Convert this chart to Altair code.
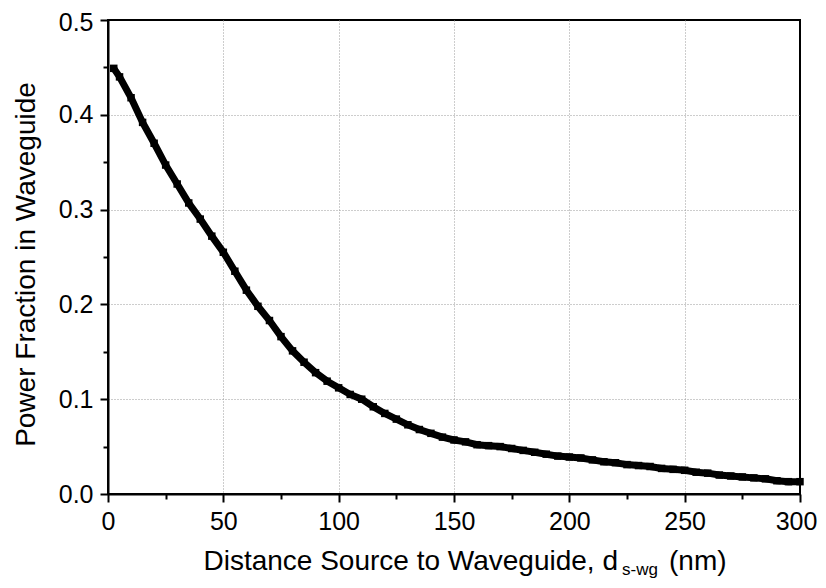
import altair as alt
import pandas as pd

# Distance source to waveguide (nm) and power fraction
distance = [2.5, 5, 10, 15, 20, 25, 30, 35, 40, 45, 50, 55, 60, 65, 70, 75, 80, 85, 90, 95,
            100, 105, 110, 115, 120, 125, 130, 135, 140, 145, 150, 155, 160, 165, 170, 175,
            180, 185, 190, 195, 200, 205, 210, 215, 220, 225, 230, 235, 240, 245, 250, 255,
            260, 265, 270, 275, 280, 285, 290, 295, 300]
power = [0.449, 0.440, 0.418, 0.392, 0.370, 0.347, 0.327, 0.307, 0.290, 0.272, 0.255,
         0.235, 0.215, 0.198, 0.183, 0.166, 0.151, 0.139, 0.128, 0.119, 0.112, 0.105,
         0.100, 0.092, 0.085, 0.079, 0.073, 0.068, 0.064, 0.060, 0.057, 0.055, 0.052,
         0.051, 0.050, 0.048, 0.046, 0.044, 0.042, 0.040, 0.039, 0.038, 0.036, 0.034,
         0.033, 0.031, 0.030, 0.029, 0.027, 0.026, 0.025, 0.023, 0.022, 0.020, 0.019,
         0.018, 0.017, 0.016, 0.014, 0.013, 0.013]

x_ticks = [0, 25, 50, 75, 100, 125, 150, 175, 200, 225, 250, 275, 300]
y_ticks = [0.0, 0.05, 0.1, 0.15, 0.2, 0.25, 0.3, 0.35, 0.4, 0.45, 0.5]

y_title = "Power Fraction in Waveguide"
x_title_parts = ["Distance Source to Waveguide, d", "s-wg", "(nm)"]

FONT = "Liberation Sans"

df = pd.DataFrame({"d": distance, "p": power})

xscale = alt.Scale(domain=[0, 300], nice=False, zero=False)
yscale = alt.Scale(domain=[0, 0.5], nice=False)

x_major = "datum.value % 50 === 0"
y_major = "round(datum.value * 20) % 2 === 0"

xaxis = alt.Axis(
    values=x_ticks, title=None,
    labelExpr=f"{x_major} ? datum.label : ''",
    format="d",
    tickSize={"condition": {"test": x_major, "value": 8}, "value": 5},
    gridOpacity={"condition": {"test": f"{x_major} && datum.value > 0 && datum.value < 300", "value": 1}, "value": 0},
    labelFontSize=25, labelFont=FONT, labelColor="black", labelPadding=7,
    labelOffset={"condition": {"test": "datum.value === 300", "value": -4}, "value": 0},
    labelFlush=False, labelOverlap=False,
)
yaxis = alt.Axis(
    values=y_ticks, title=y_title, format=".1f",
    labelExpr=f"{y_major} ? datum.label : ''",
    tickSize={"condition": {"test": y_major, "value": 8}, "value": 5},
    gridOpacity={"condition": {"test": f"{y_major} && datum.value > 0.01 && datum.value < 0.49", "value": 1}, "value": 0},
    labelFontSize=25, labelFont=FONT, labelColor="black", labelPadding=7,
    labelOffset={"condition": {"test": "datum.value > 0.49", "value": 2}, "value": 0},
    labelFlush=False, labelOverlap=False,
    titleFontSize=28, titleFont=FONT, titleFontWeight="normal", titleColor="black",
    titlePadding=18, titleY=244,
)

base = alt.Chart(df)
line = base.mark_line(color="black", strokeWidth=7).encode(
    x=alt.X("d:Q", scale=xscale, axis=xaxis),
    y=alt.Y("p:Q", scale=yscale, axis=yaxis),
)
pts = base.mark_square(color="black", size=56, opacity=1).encode(
    x=alt.X("d:Q", scale=xscale),
    y=alt.Y("p:Q", scale=yscale),
)

tdf = pd.DataFrame({"t": x_title_parts})
main_t = alt.Chart(tdf).transform_filter(alt.datum.t == x_title_parts[0]).mark_text(
    font=FONT, fontSize=28, align="right", baseline="alphabetic", color="black"
).encode(text="t:N", x=alt.value(510), y=alt.value(550))
sub_t = alt.Chart(tdf).transform_filter(alt.datum.t == x_title_parts[1]).mark_text(
    font=FONT, fontSize=17, align="left", baseline="alphabetic", color="black"
).encode(text="t:N", x=alt.value(514), y=alt.value(555))
unit_t = alt.Chart(tdf).transform_filter(alt.datum.t == x_title_parts[2]).mark_text(
    font=FONT, fontSize=28, align="left", baseline="alphabetic", color="black"
).encode(text="t:N", x=alt.value(561), y=alt.value(550))

chart = alt.layer(line, pts, main_t, sub_t, unit_t).properties(
    width=692, height=474,
    autosize=alt.AutoSizeParams(type="none"),
    padding={"left": 100, "top": 12, "right": 18, "bottom": 86},
    background="white",
).configure_view(
    stroke="black", strokeWidth=2
).configure_axis(
    domainColor="black", domainWidth=2, tickColor="black", tickWidth=2,
    gridColor="#9a9a9a", gridDash=[1, 2], gridWidth=1,
)

chart.save("out.html", embed_options={"renderer": "svg", "actions": False})
